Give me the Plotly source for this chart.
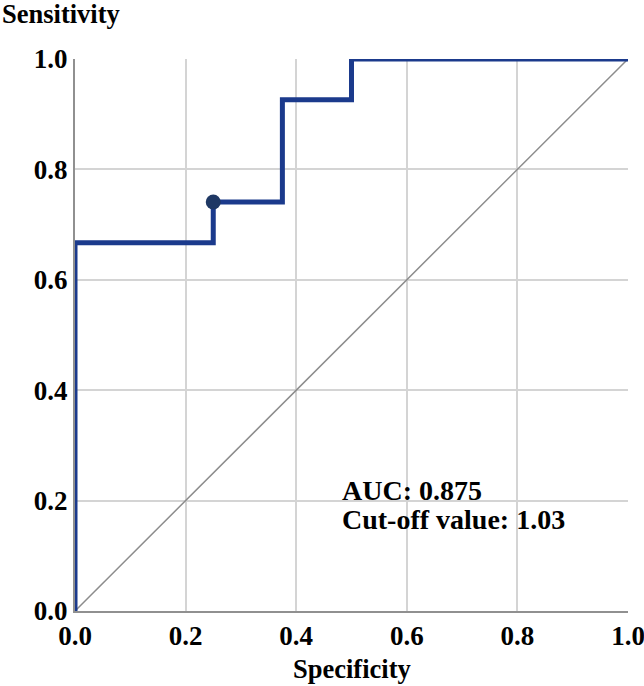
import plotly.graph_objects as go

# ROC step curve (specificity axis as drawn, sensitivity)
roc_x = [0.0, 0.0, 0.25, 0.25, 0.375, 0.375, 0.5, 0.5, 1.0]
roc_y = [0.0, 0.667, 0.667, 0.741, 0.741, 0.926, 0.926, 1.0, 1.0]
cut_x = [0.25]
cut_y = [0.741]
diag_x = [0.0, 1.0]
diag_y = [0.0, 1.0]
ticks = [0.0, 0.2, 0.4, 0.6, 0.8, 1.0]
tick_text = ["0.0", "0.2", "0.4", "0.6", "0.8", "1.0"]
auc_lines = ["AUC: 0.875", "Cut-off value: 1.03"]

font = "Liberation Serif"
tf = dict(family=font, size=27, color="black", weight="bold")

fig = go.Figure()
fig.add_trace(go.Scatter(x=diag_x, y=diag_y, mode="lines",
                         line=dict(color="#8c8c8c", width=1.5), hoverinfo="skip"))
fig.add_trace(go.Scatter(x=roc_x, y=roc_y, mode="lines",
                         line=dict(color="#1b3a8c", width=5), cliponaxis=False))
fig.add_trace(go.Scatter(x=cut_x, y=cut_y, mode="markers",
                         marker=dict(color="#1f3864", size=15), cliponaxis=False))

axis_common = dict(range=[0, 1], tickvals=ticks, ticktext=tick_text,
                   showgrid=True, gridcolor="#d4d4d4", gridwidth=1.5,
                   showline=True, linecolor="#909090", linewidth=2,
                   zeroline=False, ticks="", ticklen=0, automargin=False,
                   ticklabeloverflow="allow", tickfont=tf)

fig.update_layout(
    width=644, height=686,
    margin=dict(l=75, r=16, t=59, b=75),
    paper_bgcolor="white", plot_bgcolor="white",
    showlegend=False,
    font=dict(family=font, color="black", size=26),
    xaxis=dict(**axis_common),
    yaxis=dict(**axis_common),
    shapes=[dict(type="rect", xref="x", yref="y", x0=0.46, x1=0.91, y0=0.115, y1=0.265,
                 fillcolor="white", line=dict(width=0), layer="below")],
    annotations=[
        dict(text="<b>Sensitivity</b>", xref="paper", yref="paper",
             x=-75/553, y=1 + 59/552, xanchor="left", yanchor="top",
             yshift=3, showarrow=False, font=dict(family=font, size=26.5)),
        dict(text="<b>Specificity</b>", xref="paper", yref="paper",
             x=0.5, y=-0.0833, xanchor="center", yanchor="top",
             yshift=5, showarrow=False, font=dict(family=font, size=26.5)),
        dict(text="<b>" + auc_lines[0] + "</b>",
             xref="x", yref="y", x=0.4796, y=0.219, xanchor="left", yanchor="middle",
             showarrow=False, font=dict(family=font, size=28)),
        dict(text="<b>" + auc_lines[1] + "</b>",
             xref="x", yref="y", x=0.4796, y=0.165, xanchor="left", yanchor="middle",
             showarrow=False, font=dict(family=font, size=28)),
    ],
)

fig.write_html("out.html", config={"displayModeBar": False},
               post_script="document.body.style.margin='0';")
